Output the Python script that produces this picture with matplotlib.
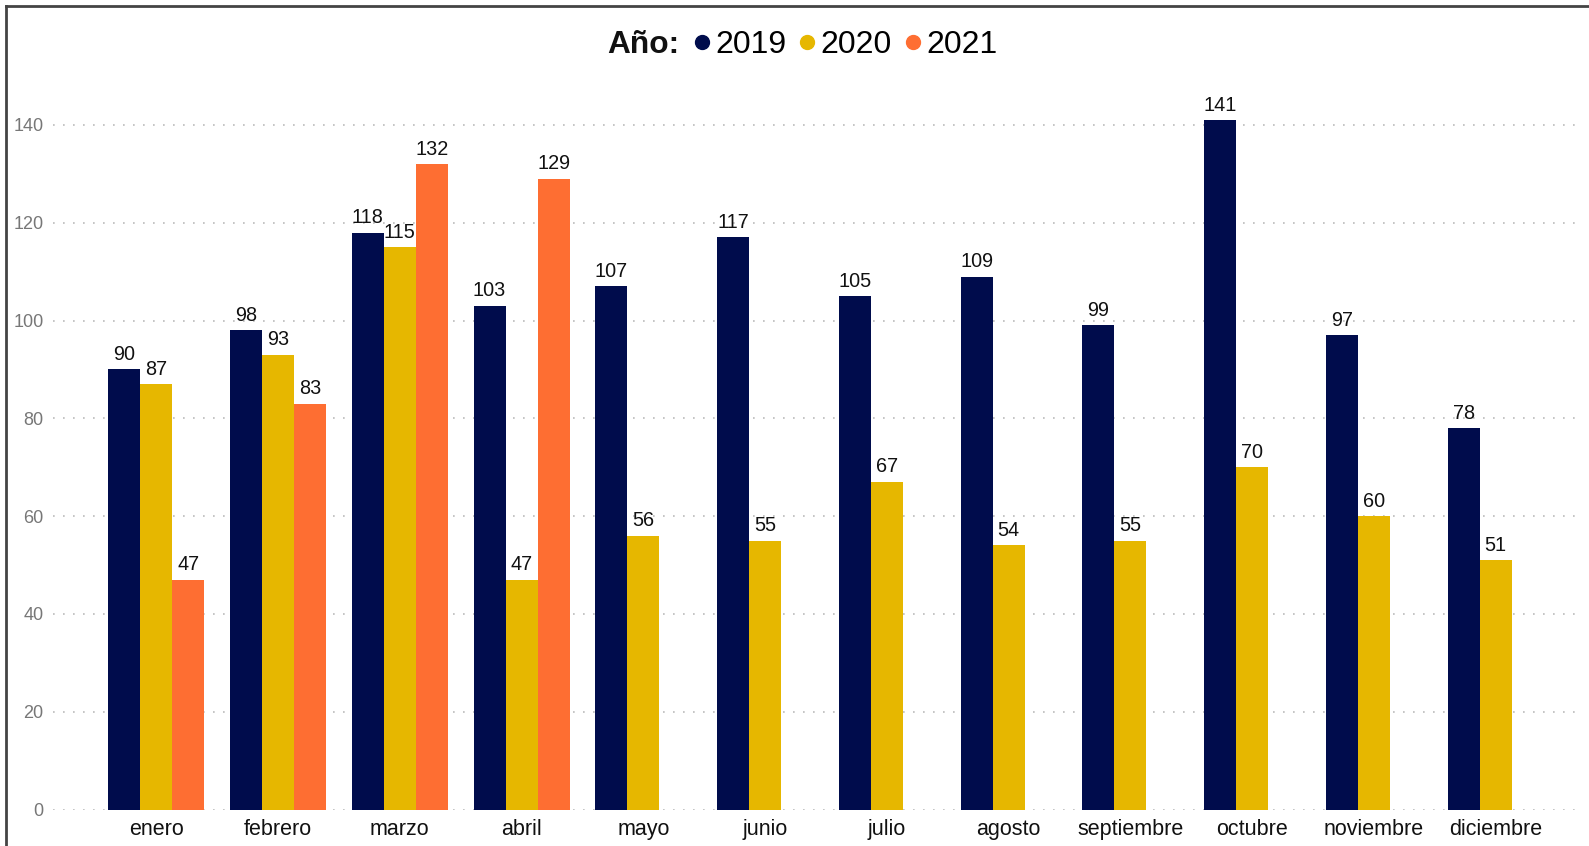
import matplotlib
matplotlib.use('Agg')
import matplotlib.pyplot as plt
from matplotlib.lines import Line2D
import numpy as np

plt.rcParams['font.family'] = ['Liberation Sans', 'DejaVu Sans']

months = ['enero', 'febrero', 'marzo', 'abril', 'mayo', 'junio', 'julio',
          'agosto', 'septiembre', 'octubre', 'noviembre', 'diciembre']
years = ['2019', '2020', '2021']
v2019 = [90, 98, 118, 103, 107, 117, 105, 109, 99, 141, 97, 78]
v2020 = [87, 93, 115, 47, 56, 55, 67, 54, 55, 70, 60, 51]
v2021 = [47, 83, 132, 129]
colors = ['#000C4C', '#E6B700', '#FE6E32']
yticks = [0, 20, 40, 60, 80, 100, 120, 140]

fig = plt.figure(figsize=(15.89, 8.46), dpi=100)
ax = fig.add_axes([0.0332, 0.0431, 0.9618, 0.867])

w = 0.263
x = np.arange(len(months))
for i, (vals, c) in enumerate(zip([v2019, v2020, v2021], colors)):
    xs = x[:len(vals)] + (i - 1) * w
    bars = ax.bar(xs, vals, width=w, color=c, zorder=3)
    for b, v in zip(bars, vals):
        ax.annotate(str(v), (b.get_x() + b.get_width() / 2, v),
                    xytext=(0, 4), textcoords='offset points',
                    ha='center', va='bottom', fontsize=14.3, color='#111111')

ax.set_xlim(-0.85, 11.7)
ax.set_ylim(0, 150)
ax.set_xticks(x)
ax.set_xticklabels(months, fontsize=15.5, color='#111111')
ax.set_yticks(yticks)
ax.set_yticklabels([str(t) for t in yticks], fontsize=13, color='#777777')
ax.tick_params(axis='both', length=0)
ax.tick_params(axis='x', pad=7)
ax.tick_params(axis='y', pad=6.5)
ax.grid(axis='y', linestyle=(0, (1, 5)), color='#BBBBBB', linewidth=1.2, zorder=0)
for s in ax.spines.values():
    s.set_visible(False)

# legend
fig.text(0.4273, 0.947, 'Año:', fontsize=22.8, fontweight='bold',
         ha='right', va='center', color='#111111')
handles = [Line2D([], [], marker='o', linestyle='', markersize=10, color=c)
           for c in colors]
fig.legend(handles, years, loc='center left', bbox_to_anchor=(0.4357, 0.947),
           ncol=3, frameon=False, fontsize=23, handlelength=0.6,
           handletextpad=0.12, columnspacing=0.35, borderpad=0, borderaxespad=0)

# frame lines at top and left
fig.add_artist(Line2D([0.0038, 0.0038], [0, 0.993], transform=fig.transFigure,
                      color='#444444', linewidth=2))
fig.add_artist(Line2D([0.0038, 1], [0.993, 0.993], transform=fig.transFigure,
                      color='#444444', linewidth=2))

fig.savefig('out.png', dpi=100)
